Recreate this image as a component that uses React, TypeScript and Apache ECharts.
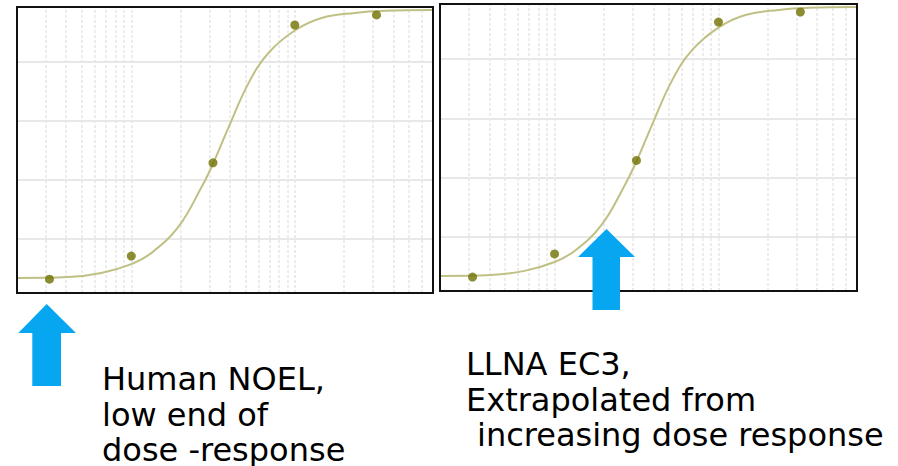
import React, { useEffect, useRef } from "react";
import * as echarts from "echarts";

// Measured dose–response points (dose on log axis, response %)
const doses = [0.316, 1, 3.16, 10, 31.6];
const responses = [6.4, 14.2, 45.8, 92.5, 95.9];

// Fitted curve
const curveDose = [0.2, 0.41, 0.655, 1.0, 1.33, 1.94, 2.69, 3.16, 3.94, 5.22, 6.92, 10.1, 14.6, 23.3, 35.7, 70];
const curveResp = [6.8, 7.1, 8.5, 11.5, 15.3, 24.1, 37.6, 45.5, 57.9, 72.9, 83.1, 90.8, 94.9, 96.6, 97.3, 97.6];

// Grid lines
const gridDoses = [0.3, 0.4, 0.5, 0.6, 0.7, 0.8, 0.9, 1, 2, 3, 4, 5, 6, 7, 8, 9, 10, 20, 30, 40, 50, 60];
const gridResp = [20, 40, 60, 80];

const xMin = 0.2;
const xMax = 70;
const yMin = 1.7;
const yMax = 98.6;

const leftText = ["Human NOEL,", "low end of", "dose -response"];
const rightText = ["LLNA EC3,", "Extrapolated from", "increasing dose response"];

const panels = [
  { left: 17, top: 7, width: 416, height: 286 },
  { left: 440, top: 4, width: 417, height: 287 },
];

export default function App() {
  const ref = useRef<HTMLDivElement>(null);
  useEffect(() => {
    if (!ref.current) return;
    const chart = echarts.init(ref.current, null, { renderer: "svg" });
    const curve = curveDose.map((d, i) => [d, curveResp[i]]);
    const pts = doses.map((d, i) => [d, responses[i]]);
    const markLine = {
      silent: true,
      symbol: "none",
      z: 1,
      label: { show: false },
      emphasis: { disabled: true },
      data: [
        ...gridDoses.map((v) => ({
          xAxis: v,
          lineStyle: { color: "#e6e6e6", width: 1.5, type: [3, 2] },
        })),
        ...gridResp.map((v) => ({
          yAxis: v,
          lineStyle: { color: "#e8e8e8", width: 2, type: "solid" },
        })),
      ],
    };
    const series: any[] = [];
    panels.forEach((_, i) => {
      series.push({
        type: "line",
        xAxisIndex: i,
        yAxisIndex: i,
        data: curve,
        smooth: 0.4,
        showSymbol: false,
        lineStyle: { color: "#c0c085", width: 2 },
        z: 3,
        markLine,
      });
      series.push({
        type: "scatter",
        xAxisIndex: i,
        yAxisIndex: i,
        data: pts,
        symbol: "circle",
        symbolSize: 9,
        itemStyle: { color: "#717100" },
        z: 4,
      });
    });
    const arrow = (tipX: number, tipY: number, baseY: number, bottom: number, headL: number, headR: number, shaftL: number, shaftR: number) => ({
      type: "polygon",
      z: 200,
      shape: {
        points: [
          [tipX, tipY],
          [headR, baseY],
          [shaftR, baseY],
          [shaftR, bottom],
          [shaftL, bottom],
          [shaftL, baseY],
          [headL, baseY],
        ],
      },
      style: { fill: "#06a6f0" },
    });
    const textEls = (lines: string[], x: number, baselines: number[]) =>
      lines.map((t, i) => ({
        type: "text",
        x,
        y: baselines[i] - 10.5,
        z: 200,
        style: {
          text: t,
          font: '32px "DejaVu Sans"',
          fill: "#000",
          verticalAlign: "middle",
          align: "left",
        },
      }));
    chart.setOption({
      animation: false,
      grid: panels.map((p) => ({ ...p, show: false, containLabel: false })),
      xAxis: panels.map((_, i) => ({
        type: "log",
        logBase: 10,
        gridIndex: i,
        min: xMin,
        max: xMax,
        axisLine: { show: false },
        axisTick: { show: false },
        axisLabel: { show: false },
        splitLine: { show: false },
      })),
      yAxis: panels.map((_, i) => ({
        type: "value",
        gridIndex: i,
        min: yMin,
        max: yMax,
        axisLine: { show: false },
        axisTick: { show: false },
        axisLabel: { show: false },
        splitLine: { show: false },
      })),
      series,
      graphic: [
        ...panels.map((p) => ({
          type: "rect",
          z: 100,
          shape: { x: p.left, y: p.top, width: p.width, height: p.height },
          style: { fill: "none", stroke: "#111", lineWidth: 2 },
        })),
        arrow(46.7, 304, 333, 386, 18.3, 76, 32.3, 61),
        arrow(606.5, 229, 257, 310, 578, 635, 592.5, 620),
        ...textEls(leftText, 102, [389, 425, 460]),
        ...textEls(rightText.slice(0, 2), 466, [374, 410]),
        ...textEls(rightText.slice(2), 477, [445]),
      ],
    });
    return () => chart.dispose();
  }, []);
  return (
    <div
      ref={ref}
      style={{ position: "fixed", left: 0, top: 0, width: 898, height: 466, background: "#fff" }}
    />
  );
}
